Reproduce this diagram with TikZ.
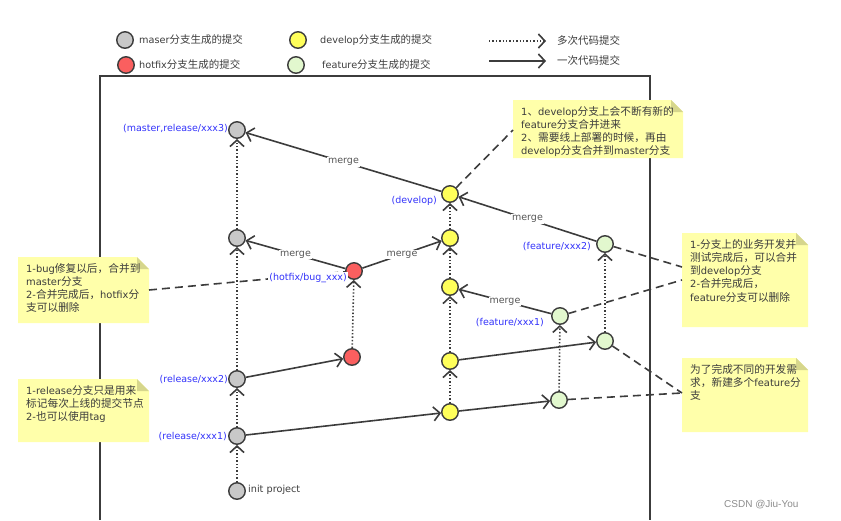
\documentclass[tikz,border=0pt]{standalone}
\usepackage{fontspec}
\setmainfont{DejaVu Sans}
\newfontfamily\cjkf[Scale=1.08]{Noto Sans CJK SC}
\newfontfamily\wmf{Liberation Sans}
\newcommand\zh[1]{{\cjkf #1}}
\usetikzlibrary{arrows.meta}
\definecolor{ink}{RGB}{60,60,60}
\definecolor{gfill}{RGB}{200,200,200}
\definecolor{rfill}{RGB}{250,95,95}
\definecolor{yfill}{RGB}{255,255,90}
\definecolor{lfill}{RGB}{226,248,206}
\definecolor{lblue}{RGB}{50,50,250}
\definecolor{notefill}{RGB}{255,255,170}
\definecolor{foldfill}{RGB}{214,214,140}
\definecolor{mergec}{RGB}{85,85,85}
\newcommand\notebox[6]{%
  \fill[notefill] (#2,#3) -- (#4-12,#3) -- (#4,#3+12) -- (#4,#5) -- (#2,#5) -- cycle;
  \fill[foldfill] (#4-12,#3) -- (#4,#3+12) -- (#4-12,#3+12) -- cycle;
  \node[notetext,anchor=north west] (#1) at (#2+8,#3+6) {#6};
}
\begin{document}
\begin{tikzpicture}[x=1pt,y=-1pt,
  commit/.style={circle,draw=ink,line width=1.4pt,minimum size=16.5pt,inner sep=0pt},
  gc/.style={commit,fill=gfill},
  rc/.style={commit,fill=rfill},
  yc/.style={commit,fill=yfill},
  lc/.style={commit,fill=lfill},
  tipped/.style={-{Straight Barb[length=6.5pt,width=14pt,line width=1.6pt]}},
  one/.style={draw=ink,line width=1.6pt,tipped},
  many/.style={draw=ink,line width=1.6pt,dash pattern=on 1.4pt off 2pt,tipped},
  hint/.style={draw=ink,line width=1.6pt,dash pattern=on 8pt off 5pt},
  merge/.style={fill=white,text=mergec,inner sep=1pt,font=\fontsize{9.5}{11}\selectfont},
  tag/.style={text=lblue,inner sep=1pt,font=\fontsize{9.5}{11}\selectfont},
  legtext/.style={text=ink,inner sep=0pt,anchor=west,font=\fontsize{9.7}{11}\selectfont},
  notetext/.style={align=left,inner sep=0pt,text=ink,font=\fontsize{9.9}{13.2}\selectfont}
]
\useasboundingbox (0,0) rectangle (841,520);

% frame
\draw[ink,line width=1.4pt] (100,520) -- (100,76) -- (650,76) -- (650,520);

% legend
\node[gc] (lg1) at (125,40) {};
\node[legtext] (lt1) at (139,40) {maser\zh{分支生成的提交}};
\node[rc] (lg2) at (126,65) {};
\node[legtext] (lt2) at (139,65) {hotfix\zh{分支生成的提交}};
\node[yc] (lg3) at (298,40) {};
\node[legtext] (lt3) at (320,40) {develop\zh{分支生成的提交}};
\node[lc] (lg4) at (296,65) {};
\node[legtext] (lt4) at (322,65) {feature\zh{分支生成的提交}};
\coordinate (la1) at (489,41);
\coordinate (la2) at (546,41);
\coordinate (lb1) at (489,61);
\coordinate (lb2) at (546,61);
\draw[many] (la1) -- (la2);
\draw[one] (lb1) -- (lb2);
\node[legtext] (lt5) at (557,40) {\zh{多次代码提交}};
\node[legtext] (lt6) at (557,60) {\zh{一次代码提交}};

% commits
\node[gc] (m3) at (237,130) {};
\node[gc] (m2) at (237,238) {};
\node[gc] (r2) at (237,379) {};
\node[gc] (r1) at (237,436) {};
\node[gc] (m0) at (237,491) {};
\node[rc] (h2) at (354,271) {};
\node[rc] (h1) at (352,357) {};
\node[yc] (d5) at (450,194) {};
\node[yc] (d4) at (450,238) {};
\node[yc] (d3) at (450,287) {};
\node[yc] (d2) at (450,361) {};
\node[yc] (d1) at (450,412) {};
\node[lc] (f1b) at (560,316) {};
\node[lc] (f1a) at (559,400) {};
\node[lc] (f2b) at (605,244) {};
\node[lc] (f2a) at (605,341) {};

% notes
\notebox{n1}{513}{100}{683}{158}{1\zh{、}develop\zh{分支上会不断有新的}\\feature\zh{分支合并进来}\\2\zh{、需要线上部署的时候，再由}\\develop\zh{分支合并到}master\zh{分支}}
\notebox{n2}{18}{257}{149}{323}{1-bug\zh{修复以后，合并到}\\master\zh{分支}\\2-\zh{合并完成后，}hotfix\zh{分}\\\zh{支可以删除}}
\notebox{n3}{682}{233}{808}{327}{1-\zh{分支上的业务开发并}\\\zh{测试完成后，可以合并}\\\zh{到}develop\zh{分支}\\2-\zh{合并完成后，}\\feature\zh{分支可以删除}}
\notebox{n4}{18}{379}{149}{442}{1-release\zh{分支只是用来}\\\zh{标记每次上线的提交节点}\\2-\zh{也可以使用}tag}
\notebox{n5}{682}{358}{808}{432}{\zh{为了完成不同的开发需}\\\zh{求，新建多个}feature\zh{分}\\\zh{支}}

% hint connectors
\coordinate (n1a) at (513,130);
\coordinate (n2a) at (149,290);
\coordinate (n3a) at (682,267);
\coordinate (n3b) at (682,280);
\coordinate (n5a) at (682,393);
\draw[hint] (d5) -- (n1a);
\draw[hint] (n2a) -- (h2);
\draw[hint] (f2b) -- (n3a);
\draw[hint] (f1b) -- (n3b);
\draw[hint] (f2a) -- (n5a);
\draw[hint] (f1a) -- (n5a);

% multi-commit (dotted)
\draw[many] (m0) -- (r1);
\draw[many] (r1) -- (r2);
\draw[many] (r2) -- (m2);
\draw[many] (m2) -- (m3);
\draw[many] (h1) -- (h2);
\draw[many] (d1) -- (d2);
\draw[many] (d2) -- (d3);
\draw[many] (d3) -- (d4);
\draw[many] (d4) -- (d5);
\draw[many] (f1a) -- (f1b);
\draw[many] (f2a) -- (f2b);

% single commits
\draw[one] (r2) -- (h1);
\draw[one] (r1) -- (d1);
\draw[one] (d1) -- (f1a);
\draw[one] (d2) -- (f2a);
\draw[one] (h2) -- node[merge] {merge} (m2);
\draw[one] (h2) -- node[merge] {merge} (d4);
\draw[one] (f1b) -- node[merge] {merge} (d3);
\draw[one] (f2b) -- node[merge] {merge} (d5);
\draw[one] (d5) -- node[merge] {merge} (m3);

% branch labels
\node[tag,anchor=east] (t1) at (229,129) {(master,release/xxx3)};
\node[tag,anchor=east] (t2) at (438,201) {(develop)};
\node[tag,anchor=east,fill=white] (t3) at (348,278) {(hotfix/bug\_xxx)};
\node[tag,anchor=east] (t4) at (592,247) {(feature/xxx2)};
\node[tag,anchor=east] (t5) at (545,323) {(feature/xxx1)};
\node[tag,anchor=east] (t6) at (229,380) {(release/xxx2)};
\node[tag,anchor=east] (t7) at (228,437) {(release/xxx1)};
\node[legtext] (t8) at (248,490) {init project};

% watermark text
\node[anchor=west,text=black!45,inner sep=0pt,font=\wmf\fontsize{10}{12}\selectfont] (wm) at (724,505) {CSDN @Jiu-You};
\end{tikzpicture}
\end{document}
